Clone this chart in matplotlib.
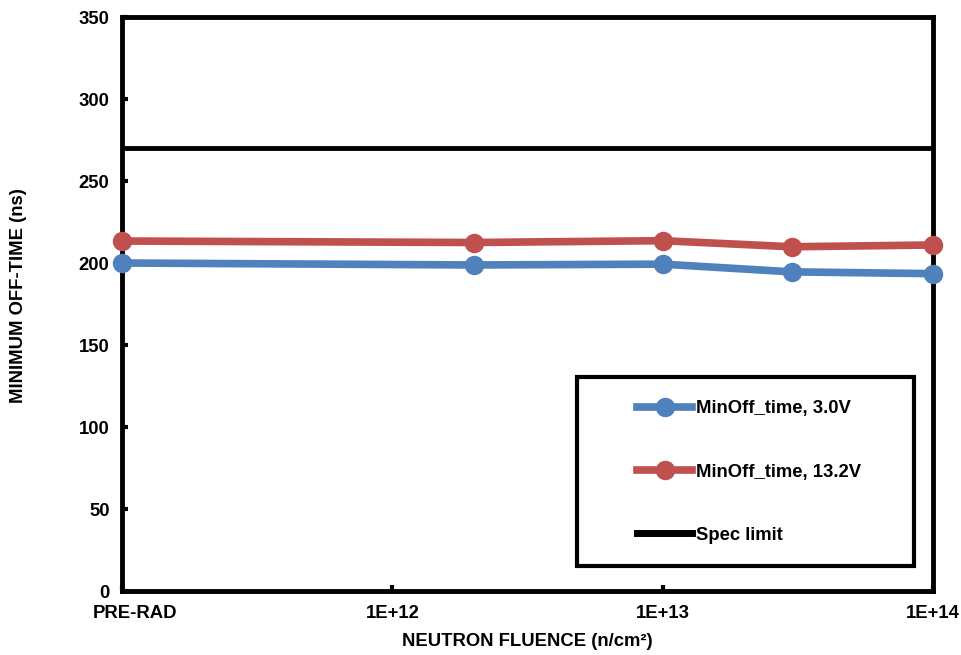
import numpy as np
import matplotlib
matplotlib.use("Agg")
import matplotlib.pyplot as plt
from matplotlib.patches import Rectangle
from matplotlib.transforms import ScaledTranslation

plt.rcParams['font.family'] = ['Liberation Sans', 'DejaVu Sans']
plt.rcParams['font.weight'] = 'bold'

# data (PRE-RAD plotted at 1e11 on log axis)
fluence = [1e11, 2e12, 1e13, 3e13, 1e14]
off_3v0 = [200.0, 198.8, 199.3, 194.6, 193.5]
off_13v2 = [213.4, 212.5, 213.6, 209.9, 211.0]
spec_limit = 270
xticks = [1e11, 1e12, 1e13, 1e14]
xticklabels = ['PRE-RAD', '1E+12', '1E+13', '1E+14']

fs = 13.3
fig = plt.figure(figsize=(9.61, 6.55), dpi=100)
ax = fig.add_axes([122/961, 1 - 591/655, (933-122)/961, (591-17)/655])

ax.plot(fluence, off_3v0, color='#4f81bd', lw=5.5, marker='o', ms=13,
        label='MinOff_time, 3.0V', clip_on=False, zorder=4)
ax.plot(fluence, off_13v2, color='#c0504d', lw=5.5, marker='o', ms=13,
        label='MinOff_time, 13.2V', clip_on=False, zorder=4)
ax.axhline(spec_limit, color='black', lw=3.5, label='Spec limit', zorder=3)

ax.set_xscale('log')
ax.set_xlim(1e11, 1e14)
ax.set_ylim(0, 350)
ax.set_xticks(xticks)
ax.set_xticklabels(xticklabels)
ax.xaxis.set_minor_locator(matplotlib.ticker.NullLocator())
ax.set_yticks(np.arange(0, 351, 50))

for s in ax.spines.values():
    s.set_linewidth(3.5)
ax.tick_params(direction='in', length=4, width=3, labelsize=fs)
ax.tick_params(axis='y', pad=9)
ax.tick_params(axis='x', pad=10)

# excel keeps the first label inside the chart area
lab0 = ax.get_xticklabels()[0]
lab0.set_transform(lab0.get_transform() + ScaledTranslation(0.13, 0, fig.dpi_scale_trans))

ax.set_xlabel('NEUTRON FLUENCE (n/cm²)', fontsize=fs, fontweight='bold', labelpad=8)
ax.set_ylabel('MINIMUM OFF-TIME (ns)', fontsize=fs, fontweight='bold')
ax.yaxis.set_label_coords(-0.117, 0.514)

# legend box
box = Rectangle((455/811, 25/574), 337/811, 189/574, transform=ax.transAxes,
                facecolor='white', edgecolor='black', lw=3, zorder=5, clip_on=False)
ax.add_patch(box)
leg = ax.legend(loc='center left', bbox_to_anchor=((637-122)/811, (591-472)/574),
                fontsize=fs, frameon=False, borderpad=0, labelspacing=2.5,
                handlelength=3.0, handletextpad=0.2, borderaxespad=0)
leg.set_zorder(6)
leg.legend_handles[2].set_linewidth(5)
for t in leg.get_texts():
    t.set_fontweight('bold')

fig.savefig('out.png', dpi=100)
